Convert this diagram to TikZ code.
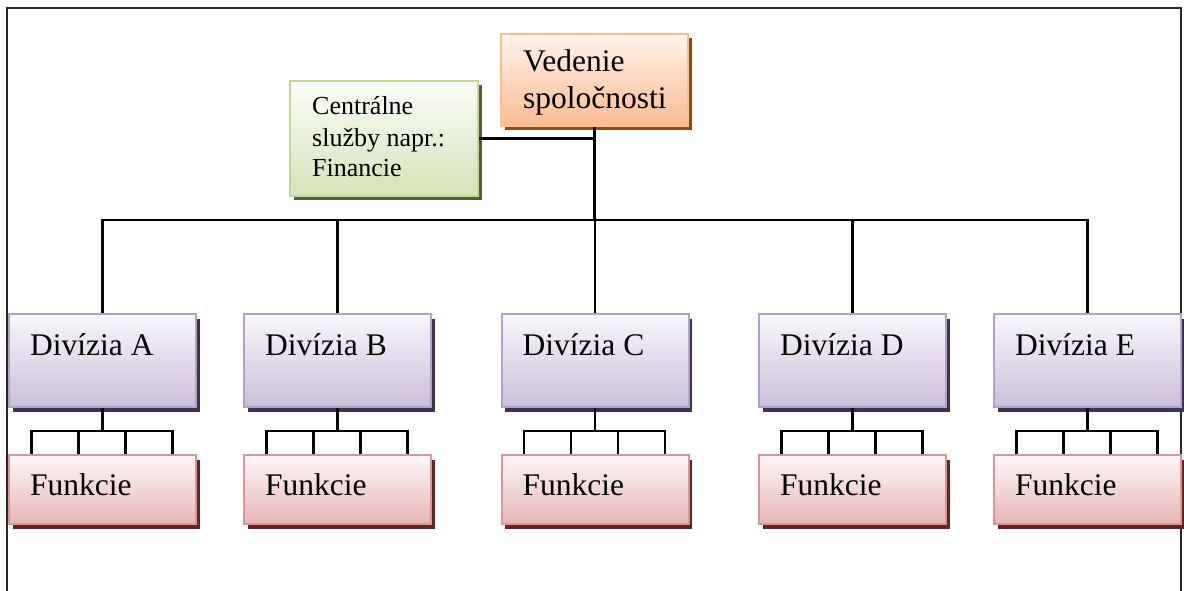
\documentclass[tikz,border=0pt]{standalone}
\usepackage{fontspec}
\setmainfont{Liberation Serif}
\usetikzlibrary{calc,shadows}

\definecolor{orBorder}{HTML}{FAC090}
\definecolor{orTop}{HTML}{FFF4EC}
\definecolor{orBot}{HTML}{F9BC94}
\definecolor{orShadow}{HTML}{984807}
\definecolor{grBorder}{HTML}{C3D69B}
\definecolor{grTop}{HTML}{FBFDF7}
\definecolor{grBot}{HTML}{D5E3BA}
\definecolor{grShadow}{HTML}{4F6228}
\definecolor{puBorder}{HTML}{B3A2C7}
\definecolor{puTop}{HTML}{F9F7FC}
\definecolor{puBot}{HTML}{CBBFDA}
\definecolor{puShadow}{HTML}{3F3151}
\definecolor{reBorder}{HTML}{D99694}
\definecolor{reTop}{HTML}{FEF8F8}
\definecolor{reBot}{HTML}{E5B6B5}
\definecolor{reShadow}{HTML}{632523}

\tikzset{
  boxbase/.style={rectangle, line width=2pt, inner sep=0pt},
  colbox/.style n args={4}{boxbase, draw=#1, top color=#2, bottom color=#3,
    general shadow={fill=#4, shadow xshift=3.5pt, shadow yshift=-4.5pt}},
  headbox/.style={colbox={orBorder}{orTop}{orBot}{orShadow},
    minimum width=187pt, minimum height=92pt},
  servbox/.style={colbox={grBorder}{grTop}{grBot}{grShadow},
    minimum width=188pt, minimum height=115pt},
  divbox/.style={colbox={puBorder}{puTop}{puBot}{puShadow},
    minimum width=187pt, minimum height=93pt},
  funcbox/.style={colbox={reBorder}{reTop}{reBot}{reShadow},
    minimum width=187pt, minimum height=69pt},
  bigtxt/.style={inner sep=0pt, anchor=base west, font=\fontsize{31.5}{37}\selectfont},
  smalltxt/.style={inner sep=0pt, anchor=base west, font=\fontsize{26}{31}\selectfont},
  conn/.style={draw=black, line width=2.1pt},
  frame/.style={draw=black!85, line width=2.2pt}
}

\begin{document}
\begin{tikzpicture}[x=1pt,y=-1pt]
  \useasboundingbox (0,0) rectangle (1184,591);

  % page frame, open at the bottom
  \draw[frame] (7,591) -- (7,8) -- (1181,8) -- (1181,591);

  % helper levels for the bus and the combs
  \coordinate (bus) at (0,220);
  \coordinate (comb) at (0,431);

  % management and central services
  \node[headbox] (ved) at (594.5,80) {};
  \node[bigtxt] (vedA) at ($(ved.north west)+(23,39)$) {Vedenie};
  \node[bigtxt] (vedB) at ($(ved.north west)+(23,76)$) {spoločnosti};

  \node[servbox] (cen) at (384,138.5) {};
  \node[smalltxt] (cenA) at ($(cen.north west)+(23,35)$) {Centrálne};
  \node[smalltxt] (cenB) at ($(cen.north west)+(23,66.5)$) {služby napr.:};
  \node[smalltxt] (cenC) at ($(cen.north west)+(23,97)$) {Financie};

  % divisions with their function boxes
  \foreach \n/\x in {A/102.5, B/337.5, C/595, D/852.5, E/1087.5} {
    \node[divbox] (d\n) at (\x,360.5) {};
    \node[bigtxt] (dt\n) at ($(d\n.north west)+(22,42)$) {Divízia \n};
    \node[funcbox] (f\n) at (\x,489.5) {};
    \node[bigtxt] (ft\n) at ($(f\n.north west)+(22,41)$) {Funkcie};
    % comb from the division down to the function box
    \coordinate (k0\n) at ($(f\n.north west)+(23.5,0)$);
    \coordinate (k1\n) at ($(f\n.north west)+(70.5,0)$);
    \coordinate (k2\n) at ($(f\n.north west)+(117.5,0)$);
    \coordinate (k3\n) at ($(f\n.north west)+(164.5,0)$);
    \draw[conn] (d\n.south) -- (d\n.south |- comb);
    \draw[conn] (k0\n) -- (k0\n |- comb) -- (k3\n |- comb) -- (k3\n);
    \draw[conn] (k1\n) -- (k1\n |- comb);
    \draw[conn] (k2\n) -- (k2\n |- comb);
  }

  % main bus
  \draw[conn] (dA.north) -- (dA.north |- bus) -- (dE.north |- bus) -- (dE.north);
  \foreach \n in {B,C,D} \draw[conn] (d\n.north) -- (d\n.north |- bus);
  \draw[conn] (ved.south) -- (ved.south |- bus);
  \draw[conn] (cen.east) -- (cen.east -| ved.south);
\end{tikzpicture}
\end{document}
